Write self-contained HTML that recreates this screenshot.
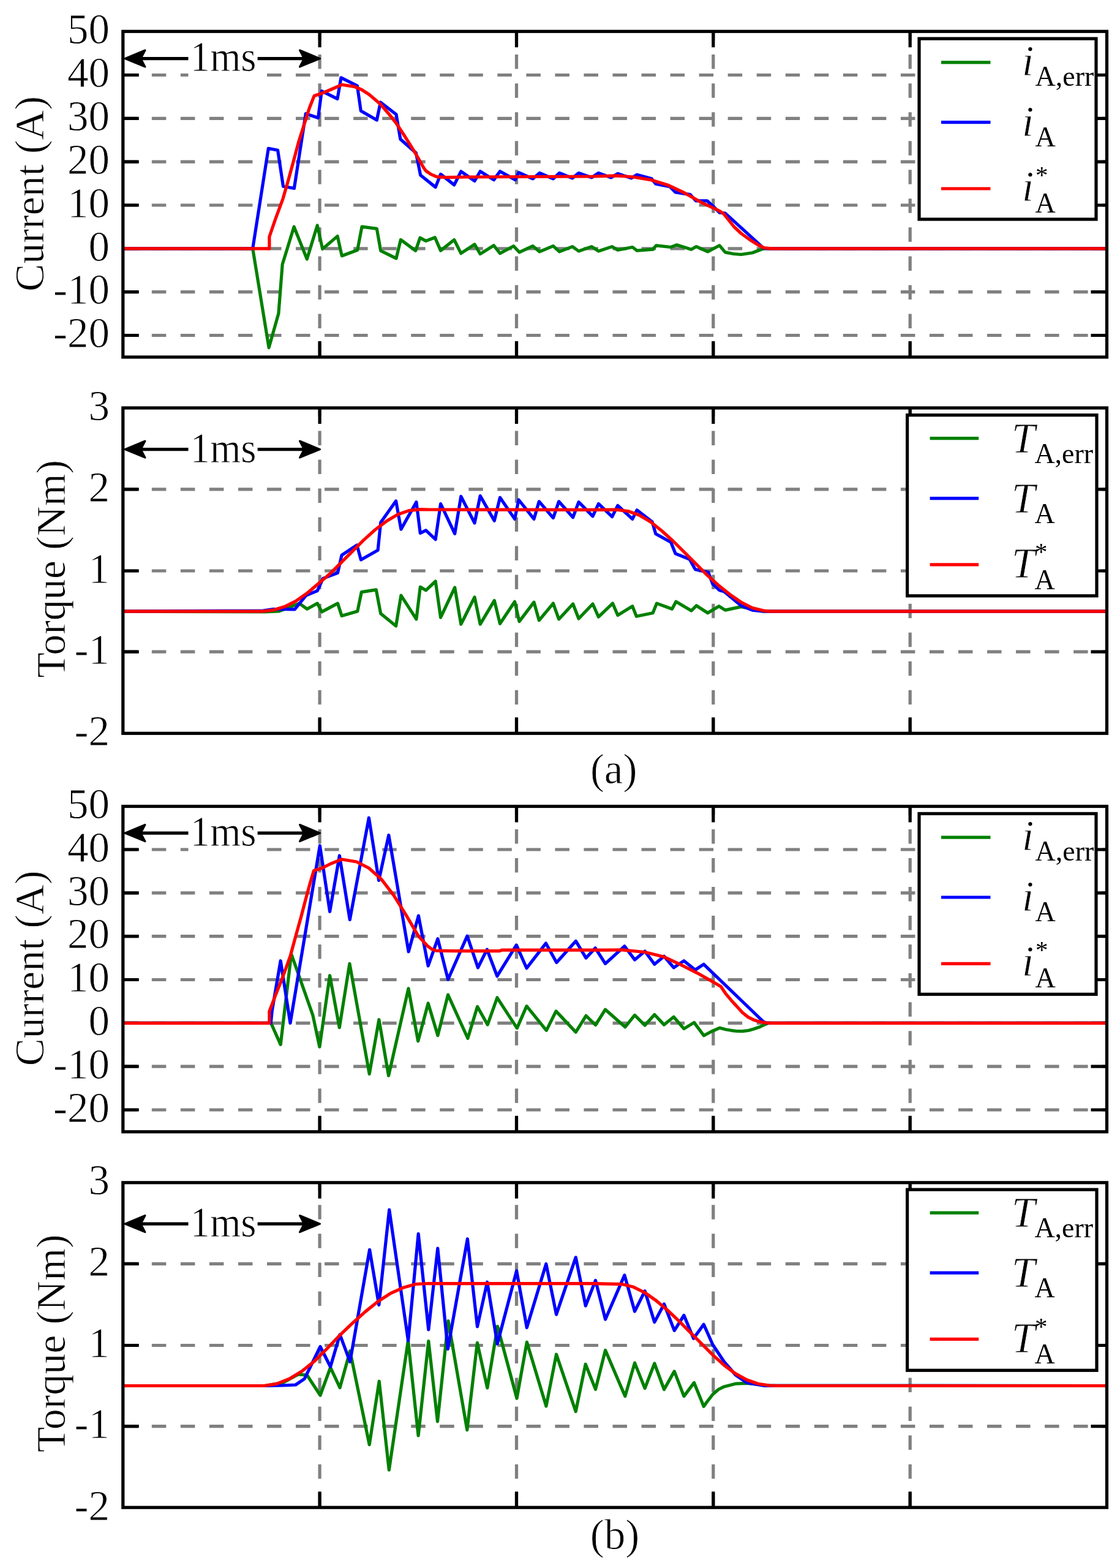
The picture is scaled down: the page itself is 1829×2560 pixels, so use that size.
<!DOCTYPE html><html><head><meta charset="utf-8"><title>Current and torque waveforms</title>
<style>html,body{margin:0;padding:0;background:#fff;}svg{display:block;}text{font-family:'Liberation Serif','Times New Roman',serif;fill:#000;stroke:#fff;stroke-width:0.8px;}text.s{stroke:none;}</style></head><body>
<svg width="1829" height="2560" viewBox="0 0 1829 2560">
<rect x="0" y="0" width="1829" height="2560" fill="#fff"/>
<line x1="200.8" y1="122.5" x2="1807.5" y2="122.5" stroke="#808080" stroke-width="5.2" stroke-dasharray="23.5 23.54"/>
<line x1="200.8" y1="193.3" x2="1807.5" y2="193.3" stroke="#808080" stroke-width="5.2" stroke-dasharray="23.5 23.54"/>
<line x1="200.8" y1="264.1" x2="1807.5" y2="264.1" stroke="#808080" stroke-width="5.2" stroke-dasharray="23.5 23.54"/>
<line x1="200.8" y1="335" x2="1807.5" y2="335" stroke="#808080" stroke-width="5.2" stroke-dasharray="23.5 23.54"/>
<line x1="200.8" y1="405.8" x2="1807.5" y2="405.8" stroke="#808080" stroke-width="5.2" stroke-dasharray="23.5 23.54"/>
<line x1="200.8" y1="476.6" x2="1807.5" y2="476.6" stroke="#808080" stroke-width="5.2" stroke-dasharray="23.5 23.54"/>
<line x1="200.8" y1="547.5" x2="1807.5" y2="547.5" stroke="#808080" stroke-width="5.2" stroke-dasharray="23.5 23.54"/>
<line x1="522.1" y1="583" x2="522.1" y2="51.3" stroke="#808080" stroke-width="5.2" stroke-dasharray="23.5 23.54"/>
<line x1="843.5" y1="583" x2="843.5" y2="51.3" stroke="#808080" stroke-width="5.2" stroke-dasharray="23.5 23.54"/>
<line x1="1164.8" y1="583" x2="1164.8" y2="51.3" stroke="#808080" stroke-width="5.2" stroke-dasharray="23.5 23.54"/>
<line x1="1486.2" y1="583" x2="1486.2" y2="51.3" stroke="#808080" stroke-width="5.2" stroke-dasharray="23.5 23.54"/>
<path d="M200.8 122.5H226.8M1807.5 122.5H1781.5M200.8 193.3H226.8M1807.5 193.3H1781.5M200.8 264.1H226.8M1807.5 264.1H1781.5M200.8 335H226.8M1807.5 335H1781.5M200.8 405.8H226.8M1807.5 405.8H1781.5M200.8 476.6H226.8M1807.5 476.6H1781.5M200.8 547.5H226.8M1807.5 547.5H1781.5M522.1 51.3V77.3M522.1 583V557M843.5 51.3V77.3M843.5 583V557M1164.8 51.3V77.3M1164.8 583V557M1486.2 51.3V77.3M1486.2 583V557" stroke="#000" stroke-width="5.2" fill="none"/>
<path d="M200.8 405.8 L412.7 405.8 L439.1 567.6 L454.9 511.7 L461.2 431.4 L480.1 370.2 L501.3 423 L518.2 368 L526.7 406.5 L551.1 385.6 L558.3 417.7 L583.7 408.2 L591 370.2 L615.3 373.4 L621.7 409.3 L647 421.9 L654.4 391.3 L678.7 409.3 L686 388.2 L695.5 393.4 L710.3 387.8 L719.6 409.1 L741.7 391.5 L752.8 413.7 L775 398.9 L784.2 414.6 L806.4 400.8 L816.5 413.7 L838.7 401.7 L848 411.8 L870.1 401.7 L881.2 410.9 L903.4 401.7 L913.5 410.9 L934.8 402.6 L945 410 L966.2 402.6 L977.4 410 L999.6 402.6 L1008.8 408.2 L1032.8 403.5 L1040.2 409.1 L1066.1 407.2 L1071.6 400.8 L1095.6 403.5 L1104.9 399.8 L1128.9 407.2 L1137.2 402.6 L1155.7 410.9 L1175 400.8 L1184.3 411.9 L1198 414.5 L1210.2 415.5 L1228.6 412.8 L1247.1 405.8 L1807.5 405.8" stroke="#008000" stroke-width="5.2" fill="none" stroke-linejoin="round" stroke-linecap="butt"/>
<path d="M200.8 405.8 L412.7 405.8 L438.3 242.3 L453.6 245.3 L462.5 304.3 L480.4 307.5 L499.3 185.6 L519.5 192.5 L525.3 148.7 L551 161.3 L557 126.8 L583.4 140 L589.3 181 L615.3 196.1 L621.4 167 L647 186.8 L653.9 227.2 L679.4 249.8 L686.7 286 L711.2 305.6 L719.6 284.4 L741.7 301.9 L752.8 279.8 L775 295.5 L784.2 279.8 L806.4 293.6 L816.5 279.8 L841.5 293.6 L847 281.6 L870.1 291.8 L881.2 282.5 L903.4 291.8 L913.5 282.5 L934.8 290.8 L945 282.5 L966.2 289.9 L977.3 282.5 L997.7 289.9 L1008.8 283.5 L1031 290.8 L1040.2 285.3 L1064.2 291.8 L1070.7 300.1 L1093.8 304.7 L1103 313.9 L1127 317.6 L1136.3 327.8 L1154.7 327.8 L1164 336.1 L1175 347.2 L1184.3 348.1 L1247.1 405.4 L1260 405.8 L1807.5 405.8" stroke="#0000ff" stroke-width="5.2" fill="none" stroke-linejoin="round" stroke-linecap="butt"/>
<path d="M200.8 405.8 L439.9 405.8 L439.9 386.5 L449.7 357.8 L462 324.6 L470.6 295 L479.3 263 L487.9 231 L496.5 203.9 L505.1 176.8 L513.1 156.5 L526.1 152.2 L540.8 146 L558.1 138.3 L578.5 141.4 L590.8 146.5 L603.1 154.5 L615.4 165 L621.6 170.5 L633.9 184.7 L646.2 200 L658.5 218.5 L673.1 241.6 L682.3 257 L691.6 273.6 L695.5 279 L703.9 284.7 L713.1 288.6 L730 289.6 L760 289 L970 288 L1007 286.8 L1034.7 289 L1062.4 293.6 L1090.1 301.9 L1117.8 314.9 L1145.5 330.6 L1173.2 343.5 L1181.3 348.5 L1198.5 370 L1210.2 381 L1223.2 390.5 L1237.9 399.8 L1247.8 404.6 L1260 405.8 L1807.5 405.8" stroke="#ff0000" stroke-width="5.2" fill="none" stroke-linejoin="round" stroke-linecap="butt"/>
<rect x="200.8" y="51.3" width="1606.7" height="531.7" fill="none" stroke="#000" stroke-width="5.2"/>
<line x1="215" y1="95.6" x2="510" y2="95.6" stroke="#000" stroke-width="5.2"/>
<rect x="307.5" y="65.6" width="113.1" height="62" fill="#fff"/>
<path d="M204 95.6 L237 82 L230 95.6 L237 109.2 Z" fill="#000" stroke="#000" stroke-width="3" stroke-linejoin="round"/>
<path d="M522.5 95.6 L489.5 82 L496.5 95.6 L489.5 109.2 Z" fill="#000" stroke="#000" stroke-width="3" stroke-linejoin="round"/>
<text x="310.5" y="116" font-size="69" textLength="108" lengthAdjust="spacingAndGlyphs">1ms</text>
<rect x="1501" y="63.1" width="289" height="294.9" fill="#fff" stroke="#000" stroke-width="5.2"/>
<line x1="1537" y1="101.9" x2="1617.5" y2="101.9" stroke="#008000" stroke-width="5.2"/>
<line x1="1537" y1="199.7" x2="1617.5" y2="199.7" stroke="#0000ff" stroke-width="5.2"/>
<line x1="1537" y1="308" x2="1617.5" y2="308" stroke="#ff0000" stroke-width="5.2"/>
<text x="1669" y="122.7" font-size="69" font-style="italic">i</text>
<text class="s" x="1690.5" y="139.7" font-size="46">A,err</text>
<text x="1669" y="221.6" font-size="69" font-style="italic">i</text>
<text class="s" x="1690.5" y="238.6" font-size="46">A</text>
<text x="1669" y="328" font-size="69" font-style="italic">i</text>
<text class="s" x="1690.5" y="346.5" font-size="46">A</text>
<text class="s" x="1691" y="299" font-size="41">*</text>
<text x="179" y="71.1" font-size="69" text-anchor="end">50</text>
<text x="179" y="142.3" font-size="69" text-anchor="end">40</text>
<text x="179" y="213.1" font-size="69" text-anchor="end">30</text>
<text x="179" y="283.9" font-size="69" text-anchor="end">20</text>
<text x="179" y="354.8" font-size="69" text-anchor="end">10</text>
<text x="179" y="425.6" font-size="69" text-anchor="end">0</text>
<text x="179" y="496.4" font-size="69" text-anchor="end">-10</text>
<text x="179" y="567.3" font-size="69" text-anchor="end">-20</text>
<text transform="translate(70.5 316.5) rotate(-90)" x="0" y="0" font-size="68" text-anchor="middle">Current (A)</text>
<line x1="200.8" y1="798.9" x2="1807.5" y2="798.9" stroke="#808080" stroke-width="5.2" stroke-dasharray="23.5 23.54"/>
<line x1="200.8" y1="932" x2="1807.5" y2="932" stroke="#808080" stroke-width="5.2" stroke-dasharray="23.5 23.54"/>
<line x1="200.8" y1="1064.1" x2="1807.5" y2="1064.1" stroke="#808080" stroke-width="5.2" stroke-dasharray="23.5 23.54"/>
<line x1="522.1" y1="1197.3" x2="522.1" y2="666" stroke="#808080" stroke-width="5.2" stroke-dasharray="23.5 23.54"/>
<line x1="843.5" y1="1197.3" x2="843.5" y2="666" stroke="#808080" stroke-width="5.2" stroke-dasharray="23.5 23.54"/>
<line x1="1164.8" y1="1197.3" x2="1164.8" y2="666" stroke="#808080" stroke-width="5.2" stroke-dasharray="23.5 23.54"/>
<line x1="1486.2" y1="1197.3" x2="1486.2" y2="666" stroke="#808080" stroke-width="5.2" stroke-dasharray="23.5 23.54"/>
<path d="M200.8 798.9H226.8M1807.5 798.9H1781.5M200.8 932H226.8M1807.5 932H1781.5M200.8 1064.1H226.8M1807.5 1064.1H1781.5M522.1 666V692M522.1 1197.3V1171.3M843.5 666V692M843.5 1197.3V1171.3M1164.8 666V692M1164.8 1197.3V1171.3M1486.2 666V692M1486.2 1197.3V1171.3" stroke="#000" stroke-width="5.2" fill="none"/>
<path d="M200.8 998.2 L433.3 998.9 L455.4 998 L488.7 985.1 L501.6 994.3 L518.2 985.1 L525.6 998.9 L551.5 985.1 L558 1005.4 L583.8 998 L590.3 966.6 L614.3 962.9 L621.7 1001.7 L646.6 1022 L654.9 972.1 L679.9 1010.9 L686.3 958.3 L695.5 963.8 L711.2 949 L719.6 1008.2 L742.7 959.2 L752.8 1019.2 L775 974.9 L784.2 1019.2 L807.3 980.4 L816.5 1018.3 L840.6 982.3 L848 1014.6 L872 983.2 L880.3 1012.8 L903.4 985.1 L912.6 1010.9 L935.7 986 L945 1010 L968 986 L977.4 1007.2 L1000.5 985.1 L1008.8 1004.5 L1032.8 989.7 L1039.3 1006.3 L1066.1 1000.8 L1072.5 985.1 L1097.5 994.3 L1103.9 982.3 L1128.9 997.1 L1137.2 988.8 L1155.7 1000.8 L1174.1 989.7 L1184.3 996.1 L1210.2 990.6 L1228.6 994.3 L1247.1 998.2 L1807.5 998.2" stroke="#008000" stroke-width="5.2" fill="none" stroke-linejoin="round" stroke-linecap="butt"/>
<path d="M200.8 998.2 L429.6 997 L446.2 994.5 L481.3 994.8 L499.8 972.1 L518.2 964.7 L527.5 944.4 L551.5 935.2 L558 906.5 L582.9 889.9 L589.4 913.9 L617.1 898.2 L621.7 853 L646.6 817.9 L654.9 864.1 L679.9 819.7 L686.3 870.5 L695.5 865.9 L711.2 880.7 L719.6 822.5 L742.7 871.4 L752.8 810.5 L775 853.9 L784.2 809.6 L807.3 850.2 L816.5 812.3 L840.6 847.4 L847 816 L872 847.4 L880.3 818.8 L903.4 845.6 L912.6 818.8 L935.7 844.7 L945 819.7 L968 842.8 L977.4 822.5 L999.6 843.7 L1008.8 825.3 L1032.8 847.4 L1040.2 832.7 L1065.1 852 L1070.7 871.4 L1095.6 885.3 L1103 903.8 L1126.1 913 L1135.3 929.6 L1156.6 934.3 L1164 953.7 L1175 963.8 L1182.5 965.7 L1210.2 988.8 L1228.6 996.1 L1247.1 998.2 L1807.5 998.2" stroke="#0000ff" stroke-width="5.2" fill="none" stroke-linejoin="round" stroke-linecap="butt"/>
<path d="M200.8 998.2 L427.7 998.2 L446.2 996.1 L464.7 990.6 L483.1 981.4 L501.6 968.4 L520.1 952.7 L538.6 937 L557 918.6 L575.5 900.1 L594 881.6 L612.5 865 L630.9 851.1 L649.4 840 L667.9 833.6 L686.3 831.7 L700 832 L970 832.3 L1007 832.1 L1025.4 834.5 L1043.9 841 L1062.4 852 L1080.8 866.8 L1099.3 883.5 L1117.8 901.9 L1136.3 920.4 L1154.7 938.9 L1173.2 955.5 L1191.7 970.3 L1210.2 983.2 L1228.6 992.5 L1247.1 997.1 L1258.2 998.2 L1807.5 998.2" stroke="#ff0000" stroke-width="5.2" fill="none" stroke-linejoin="round" stroke-linecap="butt"/>
<rect x="200.8" y="666" width="1606.7" height="531.3" fill="none" stroke="#000" stroke-width="5.2"/>
<line x1="215" y1="733.6" x2="510" y2="733.6" stroke="#000" stroke-width="5.2"/>
<rect x="307.5" y="703.6" width="113.1" height="62" fill="#fff"/>
<path d="M204 733.6 L237 720 L230 733.6 L237 747.2 Z" fill="#000" stroke="#000" stroke-width="3" stroke-linejoin="round"/>
<path d="M522.5 733.6 L489.5 720 L496.5 733.6 L489.5 747.2 Z" fill="#000" stroke="#000" stroke-width="3" stroke-linejoin="round"/>
<text x="310.5" y="754.8" font-size="69" textLength="108" lengthAdjust="spacingAndGlyphs">1ms</text>
<rect x="1481.6" y="677.7" width="309.4" height="295.1" fill="#fff" stroke="#000" stroke-width="5.2"/>
<line x1="1518.6" y1="715.7" x2="1598.2" y2="715.7" stroke="#008000" stroke-width="5.2"/>
<line x1="1518.6" y1="813.6" x2="1598.2" y2="813.6" stroke="#0000ff" stroke-width="5.2"/>
<line x1="1518.6" y1="921.9" x2="1598.2" y2="921.9" stroke="#ff0000" stroke-width="5.2"/>
<text x="1652" y="738.5" font-size="69" font-style="italic">T</text>
<text class="s" x="1689.4" y="755.5" font-size="46">A,err</text>
<text x="1652" y="836.8" font-size="69" font-style="italic">T</text>
<text class="s" x="1689.4" y="853.8" font-size="46">A</text>
<text x="1652" y="943" font-size="69" font-style="italic">T</text>
<text class="s" x="1689.4" y="961.5" font-size="46">A</text>
<text class="s" x="1689.9" y="914" font-size="41">*</text>
<text x="179" y="685.8" font-size="69" text-anchor="end">3</text>
<text x="179" y="818.7" font-size="69" text-anchor="end">2</text>
<text x="179" y="951.8" font-size="69" text-anchor="end">1</text>
<text x="179" y="1083.9" font-size="69" text-anchor="end">-1</text>
<text x="179" y="1217.1" font-size="69" text-anchor="end">-2</text>
<text transform="translate(105.5 928.7) rotate(-90)" x="0" y="0" font-size="68" text-anchor="middle">Torque (Nm)</text>
<line x1="200.8" y1="1387" x2="1807.5" y2="1387" stroke="#808080" stroke-width="5.2" stroke-dasharray="23.5 23.54"/>
<line x1="200.8" y1="1457.8" x2="1807.5" y2="1457.8" stroke="#808080" stroke-width="5.2" stroke-dasharray="23.5 23.54"/>
<line x1="200.8" y1="1528.6" x2="1807.5" y2="1528.6" stroke="#808080" stroke-width="5.2" stroke-dasharray="23.5 23.54"/>
<line x1="200.8" y1="1599.5" x2="1807.5" y2="1599.5" stroke="#808080" stroke-width="5.2" stroke-dasharray="23.5 23.54"/>
<line x1="200.8" y1="1670.3" x2="1807.5" y2="1670.3" stroke="#808080" stroke-width="5.2" stroke-dasharray="23.5 23.54"/>
<line x1="200.8" y1="1741.1" x2="1807.5" y2="1741.1" stroke="#808080" stroke-width="5.2" stroke-dasharray="23.5 23.54"/>
<line x1="200.8" y1="1812" x2="1807.5" y2="1812" stroke="#808080" stroke-width="5.2" stroke-dasharray="23.5 23.54"/>
<line x1="522.1" y1="1847.8" x2="522.1" y2="1316.5" stroke="#808080" stroke-width="5.2" stroke-dasharray="23.5 23.54"/>
<line x1="843.5" y1="1847.8" x2="843.5" y2="1316.5" stroke="#808080" stroke-width="5.2" stroke-dasharray="23.5 23.54"/>
<line x1="1164.8" y1="1847.8" x2="1164.8" y2="1316.5" stroke="#808080" stroke-width="5.2" stroke-dasharray="23.5 23.54"/>
<line x1="1486.2" y1="1847.8" x2="1486.2" y2="1316.5" stroke="#808080" stroke-width="5.2" stroke-dasharray="23.5 23.54"/>
<path d="M200.8 1387H226.8M1807.5 1387H1781.5M200.8 1457.8H226.8M1807.5 1457.8H1781.5M200.8 1528.6H226.8M1807.5 1528.6H1781.5M200.8 1599.5H226.8M1807.5 1599.5H1781.5M200.8 1670.3H226.8M1807.5 1670.3H1781.5M200.8 1741.1H226.8M1807.5 1741.1H1781.5M200.8 1812H226.8M1807.5 1812H1781.5M522.1 1316.5V1342.5M522.1 1847.8V1821.8M843.5 1316.5V1342.5M843.5 1847.8V1821.8M1164.8 1316.5V1342.5M1164.8 1847.8V1821.8M1486.2 1316.5V1342.5M1486.2 1847.8V1821.8" stroke="#000" stroke-width="5.2" fill="none"/>
<path d="M200.8 1670.3 L442.5 1670.3 L458.2 1705.4 L475.7 1557.5 L510.8 1657.3 L521.9 1709.1 L538.6 1592.7 L554.3 1677.7 L570.9 1573.3 L603.2 1753.4 L618.9 1664.7 L634.6 1756.2 L667 1613.9 L682.7 1699.8 L699.2 1638 L714.9 1690.6 L731.6 1624.1 L763.9 1695.3 L779.6 1643.5 L796.2 1673.1 L811.9 1628.8 L844.3 1678.6 L860 1642.6 L892.3 1682.3 L908 1650.9 L940.3 1685.1 L957 1658.3 L972.5 1673.5 L988.5 1648.2 L1020.8 1676.8 L1036.5 1657.4 L1053.1 1674 L1068.8 1656.5 L1084.5 1673.1 L1100.2 1660.2 L1116.9 1679.6 L1133.5 1669.4 L1149.4 1690.8 L1162 1684 L1175.5 1678.2 L1185 1680.8 L1194 1682.3 L1203 1683.5 L1212.5 1683.7 L1222 1682.5 L1230.9 1680 L1241 1676.5 L1251.2 1671.7 L1255 1670.3 L1807.5 1670.3" stroke="#008000" stroke-width="5.2" fill="none" stroke-linejoin="round" stroke-linecap="butt"/>
<path d="M200.8 1670.3 L442.3 1670.3 L444.3 1650 L458.2 1568.7 L474 1670.3 L522.4 1380.7 L538.6 1488.3 L554.4 1397 L571.3 1501.5 L602.4 1335.2 L618.6 1437.4 L634.8 1363.5 L667.2 1553.8 L683.4 1495.1 L699.2 1577 L714.9 1532.7 L731.6 1599.2 L763 1528.1 L780.5 1579.8 L795.3 1550.2 L811.9 1593.7 L843.3 1542.9 L860 1580.7 L891.4 1540.1 L908.9 1571.5 L940.3 1536.4 L957 1564.1 L972.2 1547.8 L988.5 1573.3 L1019.9 1544.7 L1036.5 1566.9 L1053.1 1553 L1068.8 1574.3 L1084.5 1561.3 L1100.2 1579.8 L1116.9 1568.7 L1135.3 1583.5 L1149.2 1574.3 L1247.1 1668.5 L1252 1670.3 L1807.5 1670.3" stroke="#0000ff" stroke-width="5.2" fill="none" stroke-linejoin="round" stroke-linecap="butt"/>
<path d="M200.8 1670.3 L439.9 1670.3 L439.9 1651.2 L449.7 1625.3 L462 1594.5 L474.3 1560 L483 1528 L491.6 1497.2 L499 1468.9 L506.4 1441.8 L512.5 1421.5 L526.1 1417.2 L540.8 1409.8 L558.1 1403 L582.2 1407 L602.4 1417.2 L622.7 1435.4 L642.9 1461.7 L663.2 1494.1 L683.4 1528.5 L690 1535.5 L697.4 1543.8 L705 1549.5 L712.2 1552.1 L745.4 1552.6 L815.6 1552.6 L819.3 1551.2 L990 1551.2 L1016.2 1550.8 L1053.1 1554.5 L1084.5 1562.3 L1112 1575.2 L1138.6 1588.6 L1166.3 1604.3 L1177.3 1610.7 L1184.7 1621.8 L1194 1632.9 L1203.2 1643.1 L1212.5 1653.2 L1221.7 1660.6 L1230.9 1665.2 L1240.2 1668 L1249.4 1669.8 L1260 1670.3 L1807.5 1670.3" stroke="#ff0000" stroke-width="5.2" fill="none" stroke-linejoin="round" stroke-linecap="butt"/>
<rect x="200.8" y="1316.5" width="1606.7" height="531.3" fill="none" stroke="#000" stroke-width="5.2"/>
<line x1="215" y1="1360.1" x2="510" y2="1360.1" stroke="#000" stroke-width="5.2"/>
<rect x="307.5" y="1330.1" width="113.1" height="62" fill="#fff"/>
<path d="M204 1360.1 L237 1346.5 L230 1360.1 L237 1373.7 Z" fill="#000" stroke="#000" stroke-width="3" stroke-linejoin="round"/>
<path d="M522.5 1360.1 L489.5 1346.5 L496.5 1360.1 L489.5 1373.7 Z" fill="#000" stroke="#000" stroke-width="3" stroke-linejoin="round"/>
<text x="310.5" y="1380.5" font-size="69" textLength="108" lengthAdjust="spacingAndGlyphs">1ms</text>
<rect x="1501" y="1328.4" width="289" height="294.9" fill="#fff" stroke="#000" stroke-width="5.2"/>
<line x1="1537" y1="1367.2" x2="1617.5" y2="1367.2" stroke="#008000" stroke-width="5.2"/>
<line x1="1537" y1="1465" x2="1617.5" y2="1465" stroke="#0000ff" stroke-width="5.2"/>
<line x1="1537" y1="1573.3" x2="1617.5" y2="1573.3" stroke="#ff0000" stroke-width="5.2"/>
<text x="1669" y="1388" font-size="69" font-style="italic">i</text>
<text class="s" x="1690.5" y="1405" font-size="46">A,err</text>
<text x="1669" y="1486.9" font-size="69" font-style="italic">i</text>
<text class="s" x="1690.5" y="1503.9" font-size="46">A</text>
<text x="1669" y="1593.3" font-size="69" font-style="italic">i</text>
<text class="s" x="1690.5" y="1611.8" font-size="46">A</text>
<text class="s" x="1691" y="1564.3" font-size="41">*</text>
<text x="179" y="1335.6" font-size="69" text-anchor="end">50</text>
<text x="179" y="1406.8" font-size="69" text-anchor="end">40</text>
<text x="179" y="1477.6" font-size="69" text-anchor="end">30</text>
<text x="179" y="1548.4" font-size="69" text-anchor="end">20</text>
<text x="179" y="1619.3" font-size="69" text-anchor="end">10</text>
<text x="179" y="1690.1" font-size="69" text-anchor="end">0</text>
<text x="179" y="1760.9" font-size="69" text-anchor="end">-10</text>
<text x="179" y="1831.8" font-size="69" text-anchor="end">-20</text>
<text transform="translate(70.5 1581) rotate(-90)" x="0" y="0" font-size="68" text-anchor="middle">Current (A)</text>
<line x1="200.8" y1="2063.4" x2="1807.5" y2="2063.4" stroke="#808080" stroke-width="5.2" stroke-dasharray="23.5 23.54"/>
<line x1="200.8" y1="2196.5" x2="1807.5" y2="2196.5" stroke="#808080" stroke-width="5.2" stroke-dasharray="23.5 23.54"/>
<line x1="200.8" y1="2328.6" x2="1807.5" y2="2328.6" stroke="#808080" stroke-width="5.2" stroke-dasharray="23.5 23.54"/>
<line x1="522.1" y1="2461.2" x2="522.1" y2="1930.8" stroke="#808080" stroke-width="5.2" stroke-dasharray="23.5 23.54"/>
<line x1="843.5" y1="2461.2" x2="843.5" y2="1930.8" stroke="#808080" stroke-width="5.2" stroke-dasharray="23.5 23.54"/>
<line x1="1164.8" y1="2461.2" x2="1164.8" y2="1930.8" stroke="#808080" stroke-width="5.2" stroke-dasharray="23.5 23.54"/>
<line x1="1486.2" y1="2461.2" x2="1486.2" y2="1930.8" stroke="#808080" stroke-width="5.2" stroke-dasharray="23.5 23.54"/>
<path d="M200.8 2063.4H226.8M1807.5 2063.4H1781.5M200.8 2196.5H226.8M1807.5 2196.5H1781.5M200.8 2328.6H226.8M1807.5 2328.6H1781.5M522.1 1930.8V1956.8M522.1 2461.2V2435.2M843.5 1930.8V1956.8M843.5 2461.2V2435.2M1164.8 1930.8V1956.8M1164.8 2461.2V2435.2M1486.2 1930.8V1956.8M1486.2 2461.2V2435.2" stroke="#000" stroke-width="5.2" fill="none"/>
<path d="M200.8 2262.5 L433.1 2262.5 L462 2257.4 L486.8 2243.9 L501.3 2245 L523 2278 L539.6 2232.6 L555.1 2265.6 L571.6 2205.7 L603.2 2358.6 L619.2 2255.2 L635.3 2400 L666.5 2188.7 L683.1 2343.9 L699.8 2189.6 L714.5 2320.8 L732 2156.5 L762.8 2334.6 L779.4 2192.4 L795.8 2266 L812.5 2165.5 L844 2283 L860.4 2191.2 L891.9 2295.8 L908.5 2211.2 L940.2 2304.5 L956.2 2227.2 L972.5 2268.4 L988.6 2204.4 L1020.8 2279.6 L1036.5 2225.1 L1053.1 2266.6 L1068.8 2226 L1084.5 2268.5 L1101.2 2238.9 L1116.9 2279.6 L1133.5 2257.4 L1149.2 2296.2 L1154.7 2288.5 L1164 2276.5 L1173.2 2268.5 L1182.5 2263.9 L1200.9 2259.2 L1219.4 2258.3 L1237.9 2260.2 L1256.3 2262.3 L1807.5 2262.5" stroke="#008000" stroke-width="5.2" fill="none" stroke-linejoin="round" stroke-linecap="butt"/>
<path d="M200.8 2262.5 L433.1 2262.5 L460 2262 L482.7 2261 L497.2 2251.2 L523 2198.5 L539.6 2231.5 L555.1 2178.8 L571.6 2223.3 L603.6 2040.3 L618.8 2130.5 L635.7 1975.2 L666.6 2189 L683.2 2014.4 L699.8 2171 L714.8 2038.2 L731.3 2202.5 L763.4 2022.7 L779.5 2166 L795.6 2093.2 L812.2 2194 L843.6 2074.8 L860.3 2167.5 L891.8 2063.4 L908.5 2146.1 L940.2 2052.8 L956.3 2132 L972.5 2090.4 L988.6 2154 L1019.9 2081.9 L1036.5 2141 L1053.1 2107.8 L1068.8 2158.6 L1084.5 2129 L1101.2 2172.4 L1116.9 2147.5 L1132.6 2185.3 L1149.2 2162.3 L1164 2195.5 L1182.5 2223.2 L1200.9 2244.5 L1219.4 2257.4 L1247.1 2262.3 L1807.5 2262.5" stroke="#0000ff" stroke-width="5.2" fill="none" stroke-linejoin="round" stroke-linecap="butt"/>
<path d="M200.8 2262.5 L431 2262.5 L451.7 2259.4 L472.4 2251.2 L493 2238.8 L513.7 2222.2 L534.4 2201.5 L555.1 2179.8 L575.7 2160.2 L596.4 2141.6 L617.1 2125 L637.7 2111.6 L658.4 2102.3 L679.1 2096.5 L700 2095.5 L970 2095.7 L1016.2 2096.7 L1034.7 2101.3 L1053.1 2110.5 L1071.6 2123.5 L1090.1 2139.2 L1108.6 2156.7 L1127 2175.2 L1145.5 2193.7 L1164 2212.1 L1182.5 2228.8 L1200.9 2242.6 L1219.4 2252.8 L1237.9 2259.2 L1256.3 2262 L1270 2262.5 L1807.5 2262.5" stroke="#ff0000" stroke-width="5.2" fill="none" stroke-linejoin="round" stroke-linecap="butt"/>
<rect x="200.8" y="1930.8" width="1606.7" height="530.4" fill="none" stroke="#000" stroke-width="5.2"/>
<line x1="215" y1="1998.1" x2="510" y2="1998.1" stroke="#000" stroke-width="5.2"/>
<rect x="307.5" y="1968.1" width="113.1" height="62" fill="#fff"/>
<path d="M204 1998.1 L237 1984.5 L230 1998.1 L237 2011.7 Z" fill="#000" stroke="#000" stroke-width="3" stroke-linejoin="round"/>
<path d="M522.5 1998.1 L489.5 1984.5 L496.5 1998.1 L489.5 2011.7 Z" fill="#000" stroke="#000" stroke-width="3" stroke-linejoin="round"/>
<text x="310.5" y="2019.3" font-size="69" textLength="108" lengthAdjust="spacingAndGlyphs">1ms</text>
<rect x="1481.6" y="1942.2" width="309.4" height="295.1" fill="#fff" stroke="#000" stroke-width="5.2"/>
<line x1="1518.6" y1="1980.2" x2="1598.2" y2="1980.2" stroke="#008000" stroke-width="5.2"/>
<line x1="1518.6" y1="2078.1" x2="1598.2" y2="2078.1" stroke="#0000ff" stroke-width="5.2"/>
<line x1="1518.6" y1="2186.4" x2="1598.2" y2="2186.4" stroke="#ff0000" stroke-width="5.2"/>
<text x="1652" y="2003" font-size="69" font-style="italic">T</text>
<text class="s" x="1689.4" y="2020" font-size="46">A,err</text>
<text x="1652" y="2101.3" font-size="69" font-style="italic">T</text>
<text class="s" x="1689.4" y="2118.3" font-size="46">A</text>
<text x="1652" y="2207.5" font-size="69" font-style="italic">T</text>
<text class="s" x="1689.4" y="2226" font-size="46">A</text>
<text class="s" x="1689.9" y="2178.5" font-size="41">*</text>
<text x="179" y="1950.3" font-size="69" text-anchor="end">3</text>
<text x="179" y="2083.2" font-size="69" text-anchor="end">2</text>
<text x="179" y="2216.3" font-size="69" text-anchor="end">1</text>
<text x="179" y="2348.4" font-size="69" text-anchor="end">-1</text>
<text x="179" y="2481.6" font-size="69" text-anchor="end">-2</text>
<text transform="translate(105.5 2193.2) rotate(-90)" x="0" y="0" font-size="68" text-anchor="middle">Torque (Nm)</text>
<text x="1002.2" y="1278.8" font-size="69" text-anchor="middle">(a)</text>
<text x="1004" y="2528.7" font-size="69" text-anchor="middle">(b)</text>
</svg></body></html>
